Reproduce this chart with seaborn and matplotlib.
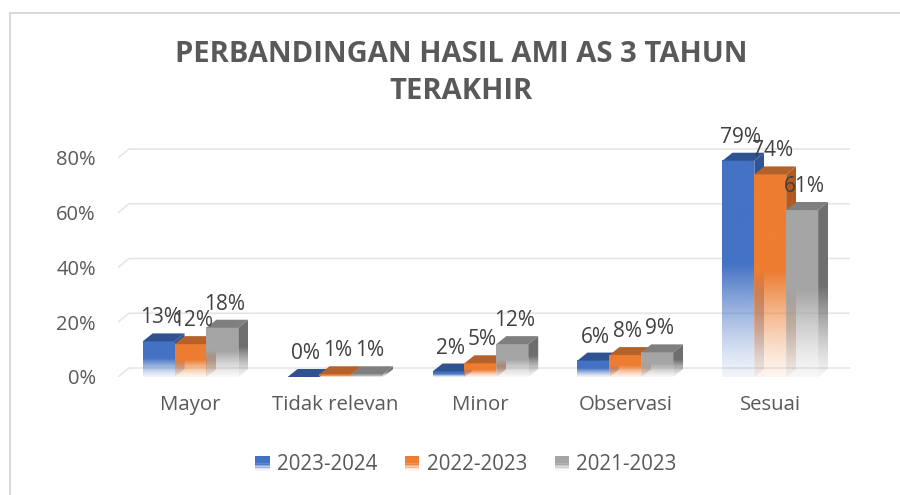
import numpy as np
import pandas as pd
import matplotlib
matplotlib.use("Agg")
import matplotlib.pyplot as plt
import seaborn as sns
from matplotlib.patches import Polygon, Rectangle
from matplotlib.legend_handler import HandlerBase
from matplotlib.colors import to_rgb

# ---- data -------------------------------------------------------------
categories = ["Mayor", "Tidak relevan", "Minor", "Observasi", "Sesuai"]
series_names = ["2023-2024", "2022-2023", "2021-2023"]
values_2023_2024 = [13, 0, 2, 6, 79]
values_2022_2023 = [12, 1, 5, 8, 74]
values_2021_2023 = [18, 1, 12, 9, 61]
y_ticks = [0, 20, 40, 60, 80]
title_text = "PERBANDINGAN HASIL AMI AS 3 TAHUN\nTERAKHIR"

front_colors = ["#4472C4", "#ED7D31", "#A5A5A5"]
side_colors = ["#2F5597", "#B35A1F", "#6F6F6F"]
top_colors = ["#2F5391", "#B5612A", "#7F7F7F"]

df = pd.DataFrame({
    "kategori": categories * 3,
    "periode": np.repeat(series_names, len(categories)),
    "nilai": values_2023_2024 + values_2022_2023 + values_2021_2023,
})

# ---- figure -----------------------------------------------------------
sns.set_theme(style="white")
FONT = ["Open Sans", "DejaVu Sans"]
plt.rcParams["font.family"] = FONT
TXT = "#595959"

fig = plt.figure(figsize=(9, 4.95), dpi=100)
ax = fig.add_axes([118 / 900, (495 - 377) / 495, 732 / 900, 236.8 / 495])

sns.barplot(data=df, x="kategori", y="nilai", hue="periode",
            hue_order=series_names, order=categories,
            palette=front_colors, width=0.66, ax=ax, legend=False,
            errorbar=None)

XMIN, XMAX = -0.5, 4.55
YMIN, YMAX = 0, 86.5
px_x = 732 / (XMAX - XMIN)
px_y = 236.8 / (YMAX - YMIN)
dx = 10 / px_x      # bar depth (data units)
dy = 8 / px_y
wdx = 11 / px_x     # wall depth
wdy = 9 / px_y


def fade_alpha(n=200):
    t = np.linspace(0, 1, n)
    a = np.where(t >= 0.52, 1.0, 0.08 + 0.92 * (t / 0.52) ** 1.3)
    return a


def gradient_img(color, n=200):
    rgb = to_rgb(color)
    img = np.ones((n, 1, 4))
    img[:, 0, :3] = rgb
    img[:, 0, 3] = fade_alpha(n)
    return img


# back-wall gridlines with a short floor-side diagonal
for v in y_ticks:
    ax.plot([XMIN, XMIN + wdx, XMAX], [v, v + wdy, v + wdy],
            color="#E6E6E6", lw=1.2, zorder=0.5, solid_capstyle="butt")

# redraw seaborn bars as 3D columns with fading fills
z = 2
for s_idx, container in enumerate(ax.containers):
    for cat_idx, patch in enumerate(container.patches):
        x0 = patch.get_x()
        w = patch.get_width()
        h = patch.get_height()
        x1 = x0 + w
        patch.set_visible(False)
        z += 1
        if h > 0:
            ax.imshow(gradient_img(front_colors[s_idx]), origin="lower",
                      extent=[x0, x1, 0, h], aspect="auto",
                      interpolation="bilinear", zorder=z)
            side = Polygon([[x1, 0], [x1 + dx, dy], [x1 + dx, h + dy], [x1, h]],
                           closed=True, facecolor="none", edgecolor="none")
            ax.add_patch(side)
            im = ax.imshow(gradient_img(side_colors[s_idx]), origin="lower",
                           extent=[x1, x1 + dx, 0, h + dy], aspect="auto",
                           interpolation="bilinear", zorder=z)
            im.set_clip_path(side)
        top = Polygon([[x0, h], [x0 + dx, h + dy], [x1 + dx, h + dy], [x1, h]],
                      closed=True, facecolor=top_colors[s_idx],
                      edgecolor="none", zorder=z + 0.5)
        ax.add_patch(top)
        ax.text(x0 + w / 2 + dx * 0.2, h + dy + 5 / px_y, f"{int(h)}%",
                ha="center", va="bottom", fontsize=15, color="#404040",
                zorder=50)

ax.set_xlim(XMIN, XMAX)
ax.set_ylim(YMIN, YMAX)
ax.set_yticks(y_ticks)
ax.set_yticklabels([f"{v}%" for v in y_ticks])
ax.set_xlabel("")
ax.set_ylabel("")
ax.tick_params(axis="y", length=0, pad=16, labelsize=14.5, labelcolor=TXT)
ax.tick_params(axis="x", length=0, pad=13, labelsize=14.7, labelcolor=TXT)
for sp in ax.spines.values():
    sp.set_visible(False)
ax.patch.set_alpha(0)

fig.text(461 / 900, 1 - 73 / 495, title_text, ha="center", va="center",
         fontsize=21, fontweight="bold", color=TXT, linespacing=1.35)


# legend swatches with the same vertical fade
class FadeHandler(HandlerBase):
    def __init__(self, color):
        super().__init__()
        self.color = color

    def create_artists(self, legend, orig_handle, xdescent, ydescent,
                       width, height, fontsize, trans):
        n = 10
        size = min(width, height) * 1.0
        x = -xdescent + (width - size) / 2
        y = -ydescent + (height - size) / 2
        alphas = fade_alpha(n)
        arts = []
        for i in range(n):
            r = Rectangle((x, y + size * i / n), size, size / n + 0.3,
                          facecolor=self.color, alpha=alphas[i],
                          edgecolor="none", transform=trans)
            arts.append(r)
        return arts


handles = [Rectangle((0, 0), 1, 1, color=c) for c in front_colors]
fig.legend(handles, series_names, loc="center",
           bbox_to_anchor=(466 / 900, 1 - 465 / 495), ncol=3, frameon=False,
           fontsize=14.8, labelcolor=TXT, handlelength=0.7, handleheight=0.7,
           handletextpad=0.35, columnspacing=1.35,
           handler_map={h: FadeHandler(c) for h, c in zip(handles, front_colors)})

fig.patches.append(Rectangle((10 / 900, -0.1), 1.2, (495 - 13) / 495 + 0.1,
                             transform=fig.transFigure, fill=False,
                             edgecolor="#D9D9D9", lw=1.5))

fig.savefig("out.png", dpi=100, facecolor="white")
